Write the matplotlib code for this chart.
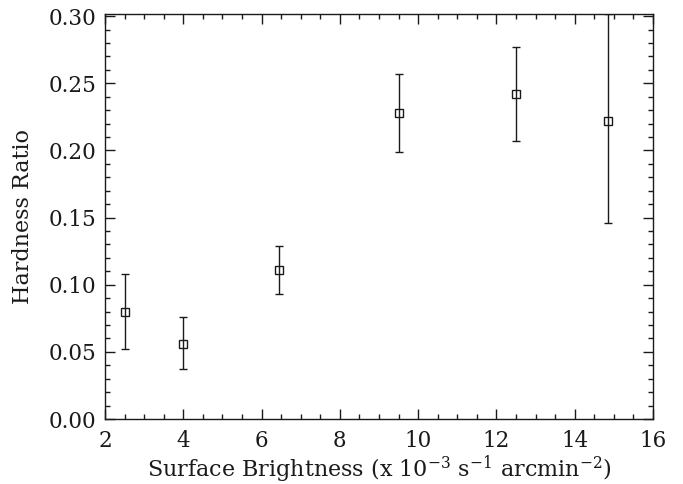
import numpy as np
import matplotlib.pyplot as plt
from matplotlib.ticker import MultipleLocator

plt.rcParams['font.family'] = 'DejaVu Serif'
plt.rcParams['mathtext.fontset'] = 'dejavuserif'

# values
brightness = [2.5, 4.0, 6.45, 9.5, 12.5, 14.85]
hardness = [0.080, 0.056, 0.111, 0.228, 0.242, 0.222]
err_low = [0.028, 0.019, 0.018, 0.029, 0.035, 0.076]
err_high = [0.028, 0.020, 0.018, 0.029, 0.035, 0.080]

ink = '#1a1a1a'

fig = plt.figure(figsize=(6.83, 4.84), dpi=100)
ax = fig.add_axes([105 / 683, 1 - 419 / 484, 548 / 683, 405.5 / 484])

ax.errorbar(brightness, hardness, yerr=[err_low, err_high],
            fmt='s', color=ink, mfc='none', mec=ink, ms=5.5, mew=1.0,
            elinewidth=1.0, capsize=3, capthick=1.0)

ax.set_xlim(2, 16)
ax.set_ylim(0, 0.302)
ax.xaxis.set_major_locator(MultipleLocator(2))
ax.xaxis.set_minor_locator(MultipleLocator(0.5))
ax.yaxis.set_major_locator(MultipleLocator(0.05))
ax.yaxis.set_minor_locator(MultipleLocator(0.01))
ax.yaxis.set_major_formatter(plt.FormatStrFormatter('%.2f'))

ax.tick_params(which='both', direction='in', top=True, right=True,
               colors=ink, labelsize=15.5, width=1.0)
ax.tick_params(which='major', length=7, pad=6)
ax.tick_params(axis='x', which='major', pad=8)
ax.tick_params(which='minor', length=3.5)
for s in ax.spines.values():
    s.set_linewidth(1.0)
    s.set_color(ink)

ax.set_xlabel(r'Surface Brightness (x 10$^{-3}$ s$^{-1}$ arcmin$^{-2}$)',
              fontsize=16, color=ink, labelpad=1)
ax.set_ylabel('Hardness Ratio', fontsize=16, color=ink, labelpad=11)

plt.savefig('out.png')
